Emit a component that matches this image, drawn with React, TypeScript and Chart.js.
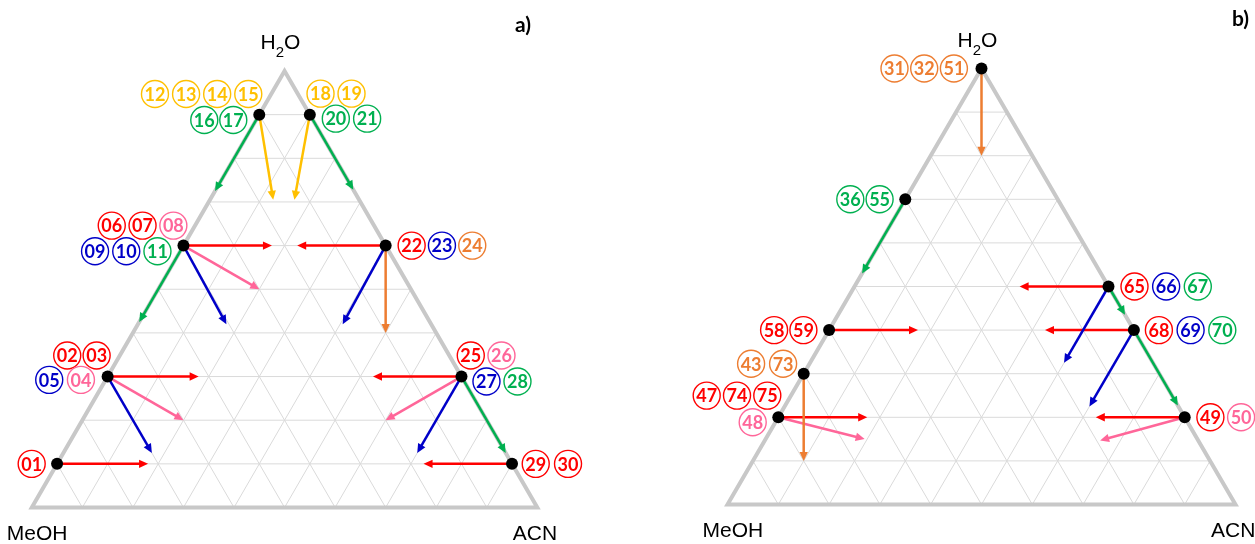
import React, { useEffect, useRef } from "react";
import { Chart, registerables } from "chart.js";

Chart.register(...registerables);

const COLOR: Record<string, string> = {
  red: "#FF0000",
  blue: "#0000C8",
  green: "#00B050",
  yellow: "#FFC000",
  orange: "#ED7D31",
  pink: "#FF6699",
};

// Ternary grid ticks (fractions)
const gridTicks = [0.1, 0.2, 0.3, 0.4, 0.5, 0.6, 0.7, 0.8, 0.9];

// ---------- Panel a) ----------
// start compositions: H2O fraction, ACN fraction (MeOH = rest)
const aPointH2O = [0.1, 0.3, 0.6, 0.9, 0.9, 0.6, 0.3, 0.1];
const aPointACN = [0, 0, 0, 0, 0.1, 0.4, 0.7, 0.9];
// arrows: start point index, end composition, colour
const aArrowFrom = [0, 1, 1, 1, 2, 2, 2, 2, 3, 3, 4, 4, 5, 5, 5, 6, 6, 6, 6, 7];
const aArrowToH2O = [0.1, 0.3, 0.2, 0.125, 0.6, 0.5, 0.42, 0.425, 0.725, 0.705, 0.705, 0.728, 0.6, 0.42, 0.4, 0.3, 0.2, 0.125, 0.125, 0.1];
const aArrowToACN = [0.18, 0.18, 0.2, 0.175, 0.175, 0.2, 0.175, 0, 0, 0.125, 0.167, 0.272, 0.225, 0.405, 0.5, 0.525, 0.6, 0.7, 0.875, 0.725];
const aArrowColor = ["red", "red", "pink", "blue", "red", "pink", "blue", "green", "green", "yellow", "yellow", "green", "red", "blue", "orange", "red", "pink", "blue", "green", "red"];
// circled labels: anchor point, texts, colours
const aLabelPoint = [0, 1, 1, 2, 2, 3, 3, 4, 4, 5, 6, 6, 7];
const aLabelText = [["01"], ["02", "03"], ["05", "04"], ["06", "07", "08"], ["09", "10", "11"], ["12", "13", "14", "15"], ["16", "17"], ["18", "19"], ["20", "21"], ["22", "23", "24"], ["25", "26"], ["27", "28"], ["29", "30"]];
const aLabelColor = [["red"], ["red", "red"], ["blue", "pink"], ["red", "red", "pink"], ["blue", "blue", "green"], ["yellow", "yellow", "yellow", "yellow"], ["green", "green"], ["yellow", "yellow"], ["green", "green"], ["red", "blue", "orange"], ["red", "pink"], ["blue", "green"], ["red", "red"]];

// ---------- Panel b) ----------
const bPointH2O = [1, 0.7, 0.4, 0.3, 0.2, 0.5, 0.4, 0.2];
const bPointACN = [0, 0, 0, 0, 0, 0.5, 0.6, 0.8];
const bArrowFrom = [0, 1, 2, 3, 4, 4, 5, 5, 5, 6, 6, 6, 7, 7];
const bArrowToH2O = [0.8, 0.53, 0.4, 0.1, 0.2, 0.15, 0.5, 0.325, 0.435, 0.4, 0.225, 0.227, 0.2, 0.147];
const bArrowToACN = [0.1, 0, 0.175, 0.1, 0.175, 0.195, 0.325, 0.5, 0.565, 0.425, 0.6, 0.773, 0.625, 0.66];
const bArrowColor = ["orange", "green", "red", "orange", "red", "pink", "red", "blue", "green", "red", "blue", "green", "red", "pink"];
const bLabelPoint = [0, 1, 2, 3, 4, 4, 5, 6, 7];
const bLabelText = [["31", "32", "51"], ["36", "55"], ["58", "59"], ["43", "73"], ["47", "74", "75"], ["48"], ["65", "66", "67"], ["68", "69", "70"], ["49", "50"]];
const bLabelColor = [["orange", "orange", "orange"], ["green", "green"], ["red", "red"], ["orange", "orange"], ["red", "red", "red"], ["pink"], ["red", "blue", "green"], ["red", "blue", "green"], ["red", "pink"]];

// ---------- Layout (pixels) ----------
const LAYOUT_A = {
  canvasLeft: 0, canvasWidth: 627, triLeft: 31.8, triWidth: 505.5, triBase: 507.5, triHeight: 436.5,
  title: "a)", titleX: 515, titleY: 31.5,
  labelDx: [-25.4, -40.4, -58.4, -71.7, -88.4, -104.3, -55, 10.7, 26, 26, 9.3, 25, 23.7],
  labelStep: [0, 29.4, 31.7, 30.8, 31.2, 31.1, 29, 31, 31.3, 30.3, 30.7, 31, 32.3],
  labelDy: [0, -21, 3.3, -20, 5.6, -20.7, 5.3, -21, 4, 0, -21, 5, 0],
};
const LAYOUT_B = {
  canvasLeft: 627, canvasWidth: 628, triLeft: 100.5, triWidth: 508, triBase: 504.5, triHeight: 436,
  title: "b)", titleX: 605, titleY: 26,
  labelDx: [-87, -55, -55, -52.6, -71.6, -25.6, 26, 25, 25.7],
  labelStep: [29.7, 29.3, 29.3, 32, 30.3, 0, 31.65, 31.7, 30.7],
  labelDy: [0, 0, 0, -10, -21.7, 5, 0, 0, 0],
};
const H = 544;

type Panel = {
  pointH2O: number[]; pointACN: number[];
  arrowFrom: number[]; arrowToH2O: number[]; arrowToACN: number[]; arrowColor: string[];
  labelPoint: number[]; labelText: string[][]; labelColor: string[][];
  layout: typeof LAYOUT_A;
};

const panelA: Panel = {
  pointH2O: aPointH2O, pointACN: aPointACN,
  arrowFrom: aArrowFrom, arrowToH2O: aArrowToH2O, arrowToACN: aArrowToACN, arrowColor: aArrowColor,
  labelPoint: aLabelPoint, labelText: aLabelText, labelColor: aLabelColor, layout: LAYOUT_A,
};
const panelB: Panel = {
  pointH2O: bPointH2O, pointACN: bPointACN,
  arrowFrom: bArrowFrom, arrowToH2O: bArrowToH2O, arrowToACN: bArrowToACN, arrowColor: bArrowColor,
  labelPoint: bLabelPoint, labelText: bLabelText, labelColor: bLabelColor, layout: LAYOUT_B,
};

// ternary (H2O, ACN) -> cartesian data coordinates
function toXY(h: number, a: number) {
  return { x: a + h / 2, y: h };
}

const HEAD_LEN = 9;
const HEAD_HALF = 4.2;

function buildDatasets(p: Panel) {
  const ds: any[] = [];
  for (const t of gridTicks) {
    const segs = [
      [toXY(t, 0), toXY(t, 1 - t)],
      [toXY(0, t), toXY(1 - t, t)],
      [toXY(0, 1 - t), toXY(1 - t, 0)],
    ];
    for (const s of segs) {
      ds.push({ data: s, showLine: true, borderColor: "#DADADA", borderWidth: 1, pointRadius: 0, order: 100 });
    }
  }
  ds.push({
    data: [toXY(0, 0), toXY(0, 1), toXY(1, 0), toXY(0, 0), toXY(0, 1)],
    showLine: true, borderColor: "#C8C8C8", borderWidth: 4, pointRadius: 0,
    borderJoinStyle: "miter", order: 90,
  });
  p.arrowFrom.forEach((fi, i) => {
    const col = COLOR[p.arrowColor[i]];
    ds.push({
      data: [toXY(p.pointH2O[fi], p.pointACN[fi]), toXY(p.arrowToH2O[i], p.arrowToACN[i])],
      showLine: true, borderColor: col, borderWidth: 2.5, pointRadius: 0,
      borderCapStyle: "butt", order: 50, arrowHead: true,
    });
  });
  ds.push({
    data: p.pointH2O.map((h, i) => toXY(h, p.pointACN[i])),
    showLine: false, pointRadius: 6, pointBackgroundColor: "#000000", pointBorderWidth: 0,
    pointBorderColor: "#000000", order: 10,
  });
  return ds;
}

function makePlugin(p: Panel) {
  const L = p.layout;
  return {
    id: "ternaryDecor",
    beforeDatasetDraw(chart: any, args: any) {
      const ds = chart.data.datasets[args.index];
      if (!ds.arrowHead) return;
      const pts = args.meta.data;
      const s = pts[0], e = pts[1];
      const ang = Math.atan2(e.y - s.y, e.x - s.x);
      args.meta._tip = { x: e.x, y: e.y, ang };
      e.x = e.x - Math.cos(ang) * HEAD_LEN * 0.7;
      e.y = e.y - Math.sin(ang) * HEAD_LEN * 0.7;
    },
    afterDatasetDraw(chart: any, args: any) {
      const ds = chart.data.datasets[args.index];
      if (!ds.arrowHead || !args.meta._tip) return;
      const tip = args.meta._tip;
      const e = args.meta.data[1];
      e.x = tip.x;
      e.y = tip.y;
      const ctx = chart.ctx;
      ctx.save();
      ctx.translate(tip.x, tip.y);
      ctx.rotate(tip.ang);
      ctx.fillStyle = ds.borderColor;
      ctx.beginPath();
      ctx.moveTo(0, 0);
      ctx.lineTo(-HEAD_LEN, -HEAD_HALF);
      ctx.lineTo(-HEAD_LEN, HEAD_HALF);
      ctx.closePath();
      ctx.fill();
      ctx.restore();
    },
    afterDatasetsDraw(chart: any) {
      const ctx = chart.ctx;
      const xs = chart.scales.x, ys = chart.scales.y;
      ctx.save();
      ctx.textAlign = "center";
      ctx.textBaseline = "middle";
      ctx.font = "bold 18px Lato";
      p.labelPoint.forEach((pi, r) => {
        const c = toXY(p.pointH2O[pi], p.pointACN[pi]);
        const px = xs.getPixelForValue(c.x);
        const py = ys.getPixelForValue(c.y);
        p.labelText[r].forEach((txt, k) => {
          const col = COLOR[p.labelColor[r][k]];
          const cx = px + L.labelDx[r] + k * L.labelStep[r];
          const cy = py + L.labelDy[r];
          ctx.beginPath();
          ctx.arc(cx, cy, 13.5, 0, Math.PI * 2);
          ctx.strokeStyle = col;
          ctx.lineWidth = 1.4;
          ctx.stroke();
          ctx.fillStyle = col;
          ctx.fillText(txt, cx, cy + 1);
        });
      });
      ctx.restore();
    },
    afterDraw(chart: any) {
      const ctx = chart.ctx;
      const xs = chart.scales.x, ys = chart.scales.y;
      const top = { x: xs.getPixelForValue(0.5), y: ys.getPixelForValue(1) };
      const left = { x: xs.getPixelForValue(0), y: ys.getPixelForValue(0) };
      const right = { x: xs.getPixelForValue(1), y: ys.getPixelForValue(0) };
      ctx.save();
      ctx.fillStyle = "#000000";
      ctx.textAlign = "left";
      ctx.textBaseline = "alphabetic";
      const big = '21px "Liberation Sans", Arial, sans-serif';
      const small = '15px "Liberation Sans", Arial, sans-serif';
      // H2O with subscript
      let x = top.x - 24;
      const by = top.y - 22;
      ctx.font = big;
      ctx.fillText("H", x, by);
      x += ctx.measureText("H").width;
      ctx.font = small;
      ctx.fillText("2", x, by + 8);
      x += ctx.measureText("2").width;
      ctx.font = big;
      ctx.fillText("O", x, by);
      ctx.fillText("MeOH", left.x - 25, left.y + 32.5);
      ctx.fillText("ACN", right.x - 24.5, right.y + 32.5);
      ctx.font = "bold 21px Lato";
      ctx.fillText(L.title, L.titleX, L.titleY);
      ctx.restore();
    },
  };
}

function createChart(canvas: HTMLCanvasElement, p: Panel) {
  const L = p.layout;
  const xmin = -L.triLeft / L.triWidth;
  const xmax = (L.canvasWidth - L.triLeft) / L.triWidth;
  const ymin = -(H - L.triBase) / L.triHeight;
  const ymax = L.triBase / L.triHeight;
  return new Chart(canvas, {
    type: "scatter",
    data: { datasets: buildDatasets(p) },
    options: {
      animation: false,
      responsive: false,
      events: [],
      layout: { padding: 0, autoPadding: false },
      elements: { line: { tension: 0 } },
      plugins: { legend: { display: false }, tooltip: { enabled: false }, title: { display: false } },
      scales: {
        x: { type: "linear", min: xmin, max: xmax, display: false },
        y: { type: "linear", min: ymin, max: ymax, display: false },
      },
    } as any,
    plugins: [makePlugin(p) as any],
  });
}

export default function App() {
  const refA = useRef<HTMLCanvasElement>(null);
  const refB = useRef<HTMLCanvasElement>(null);
  useEffect(() => {
    let charts: Chart[] = [];
    let cancelled = false;
    const make = () => {
      if (cancelled || !refA.current || !refB.current) return;
      charts = [createChart(refA.current, panelA), createChart(refB.current, panelB)];
    };
    const fonts: any = (document as any).fonts;
    if (fonts && fonts.load) {
      Promise.all([
        fonts.load("bold 18px Lato"),
        fonts.load('21px "Liberation Sans"'),
      ]).then(make, make);
    } else {
      make();
    }
    return () => {
      cancelled = true;
      charts.forEach((c) => c.destroy());
      charts = [];
    };
  }, []);
  return (
    <div style={{ position: "absolute", left: 0, top: 0, width: 1255, height: H, background: "#ffffff" }}>
      <canvas ref={refA} width={LAYOUT_A.canvasWidth} height={H}
        style={{ position: "absolute", left: LAYOUT_A.canvasLeft, top: 0, width: LAYOUT_A.canvasWidth, height: H }} />
      <canvas ref={refB} width={LAYOUT_B.canvasWidth} height={H}
        style={{ position: "absolute", left: LAYOUT_B.canvasLeft, top: 0, width: LAYOUT_B.canvasWidth, height: H }} />
    </div>
  );
}
